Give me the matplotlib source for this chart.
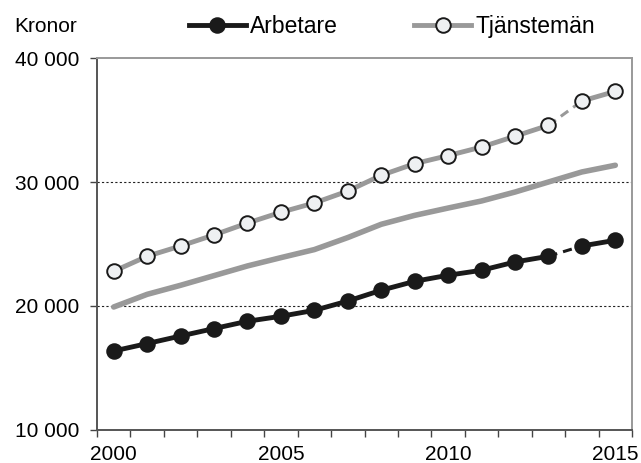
import numpy as np
import matplotlib.pyplot as plt
from matplotlib.ticker import FuncFormatter, MultipleLocator

plt.rcParams['font.family'] = ['Liberation Sans', 'DejaVu Sans']

""" Data read from the chart """
years = list(range(2000, 2016))
arbetare = [16370, 16970, 17580, 18180, 18770, 19170, 19650, 20400,
            21270, 21990, 22480, 22880, 23550, 24010, 24840, 25300]
tjansteman = [22800, 24010, 24840, 25730, 26690, 27560, 28310, 29270,
              30540, 31480, 32130, 32820, 33690, 34570, 36530, 37310]
ovriga = [19920, 20940, 21670, 22450, 23230, 23900, 24550, 25520,
          26590, 27310, 27900, 28470, 29190, 30000, 30810, 31350]
break_year = 2013   # dashed segment between 2013 and 2014

fig = plt.figure(figsize=(6.41, 4.63), dpi=100)
ax = fig.add_axes([0.1513, 0.0713, 0.8347, 0.8034])

x = np.array(years)
i = years.index(break_year)


def split_plot(y, color, mfc, label):
    y = np.array(y, dtype=float)
    ax.plot(x[:i + 1], y[:i + 1], color=color, lw=3.5, zorder=3)
    ax.plot(x[i:i + 2], y[i:i + 2], color=color, lw=2.2, ls=(0, (3, 2)), zorder=3)
    ax.plot(x[i + 1:], y[i + 1:], color=color, lw=3.5, zorder=3)
    ax.plot(x, y, ls='none', marker='o', ms=10.5, mfc=mfc, mec='#1a1a1a',
            mew=1.4, zorder=4)
    # legend handle
    ax.plot([], [], color=color, lw=3.5, marker='o', ms=10.5, mfc=mfc,
            mec='#1a1a1a', mew=1.4, label=label)


ax.plot(x, ovriga, color='#999999', lw=4, solid_capstyle='round', zorder=2)
split_plot(arbetare, '#1a1a1a', '#1a1a1a', 'Arbetare')
split_plot(tjansteman, '#999999', '#eef0f2', 'Tjänstemän')

ax.set_xlim(1999.5, 2015.5)
ax.set_ylim(10000, 40000)

ax.set_yticks([10000, 20000, 30000, 40000])
ax.yaxis.set_major_formatter(FuncFormatter(lambda v, p: f"{int(v):,}".replace(',', ' ')))
ax.set_xticks([2000, 2005, 2010, 2015])
ax.xaxis.set_minor_locator(MultipleLocator(1, offset=0.5))
ax.tick_params(axis='x', which='major', length=0, pad=11, labelsize=15)
ax.tick_params(axis='x', which='minor', length=5, width=1, color='#444444')
ax.tick_params(axis='y', length=5, width=1, color='#444444', labelsize=15, pad=8)

for yv in [20000, 30000]:
    ax.axhline(yv, color='#222222', lw=0.8, ls=(0, (2, 2)), zorder=1)

ax.spines['left'].set_color('#555555')
ax.spines['bottom'].set_color('#555555')
ax.spines['top'].set_color('#999999')
ax.spines['right'].set_color('#999999')
for s in ax.spines.values():
    s.set_linewidth(1.4)

fig.text(0.022, 0.942, 'Kronor', fontsize=15, va='center', ha='left')
fig.legend(loc='center', bbox_to_anchor=(0.6115, 0.942), ncol=2, frameon=False,
           fontsize=16.5, handlelength=2.5, columnspacing=3.3, handletextpad=0.2)

fig.savefig('out.png', dpi=100)
